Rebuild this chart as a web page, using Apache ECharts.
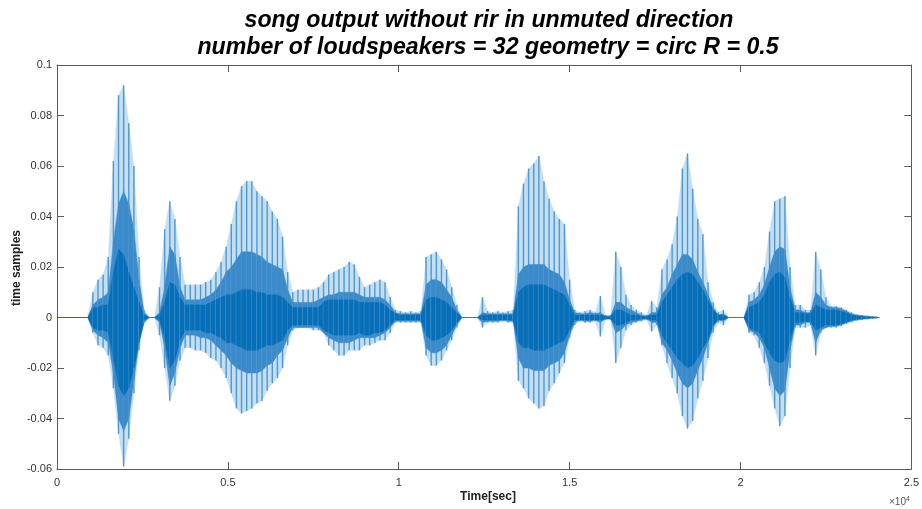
<!DOCTYPE html>
<html><head><meta charset="utf-8">
<script src="https://cdn.jsdelivr.net/npm/echarts@6/dist/echarts.min.js"></script>
<style>html,body{margin:0;padding:0;background:#fff}#c{width:922px;height:509px}</style>
</head><body><div id="c"></div>
<script>
const titleLines = ['song output without rir in unmuted direction', 'number of loudspeakers = 32 geometry = circ R = 0.5'];
const xAxisTitle = 'Time[sec]';
const yAxisTitle = 'time samples';
const xTickLabels = ['0', '0.5', '1', '1.5', '2', '2.5'];
const yTickLabels = ['-0.06', '-0.04', '-0.02', '0', '0.02', '0.04', '0.06', '0.08', '0.1'];
const signalSpan = [0, 24070];

const sampleIdx = [900,1050,1200,1350,1500,1650,1800,1950,2100,2250,2400,2550,2700,2850,3000,3150,3300,3450,3600,3750,3900,4050,4200,4350,4500,4650,4800,4950,5100,5250,5400,5550,5700,5850,6000,6150,6300,6450,6600,6750,6900,7050,7200,7350,7500,7650,7800,7950,8100,8250,8400,8550,8700,8850,9000,9150,9300,9450,9600,9750,9900,10050,10200,10350,10500,10650,10800,10950,11100,11250,11400,11550,11700,11850,12000,12150,12300,12450,12600,12750,12900,13050,13200,13350,13500,13650,13800,13950,14100,14250,14400,14550,14700,14850,15000,15150,15300,15450,15600,15750,15900,16050,16200,16350,16500,16650,16800,16950,17100,17250,17400,17550,17700,17850,18000,18150,18300,18450,18600,18750,18900,19050,19200,19350,19500,19650,19800,19950,20100,20250,20400,20550,20700,20850,21000,21150,21300,21450,21600,21750,21900,22050,22200,22350,22500,22650,22800,22950,23100,23250,23400,23550,23700,23850,24000];

const outerMax = [0,0.010,0.015,0.017,0.024,0.062,0.088,0.092,0.077,0.060,0.024,0.003,0,0,0.012,0.035,0.046,0.039,0.024,0.013,0.013,0.013,0.013,0.014,0.015,0.018,0.022,0.028,0.037,0.046,0.052,0.054,0.054,0.050,0.048,0.046,0.042,0.039,0.032,0.018,0.010,0.011,0.011,0.011,0.011,0.012,0.014,0.017,0.018,0.019,0.020,0.022,0.021,0.016,0.012,0.013,0.014,0.015,0.014,0.008,0.003,0.0025,0.002,0.0025,0.002,0.0025,0.024,0.025,0.026,0.023,0.019,0.012,0.005,0,0,0,0,0.008,0.0025,0.002,0.0025,0.002,0.0025,0.003,0.044,0.053,0.059,0.061,0.064,0.054,0.047,0.042,0.039,0.037,0.015,0.003,0.002,0.0025,0.003,0.002,0.0085,0.001,0.001,0.026,0.020,0.009,0.005,0.003,0.002,0.001,0.0065,0.004,0.019,0.023,0.029,0.040,0.059,0.065,0.051,0.039,0.033,0.014,0.006,0.002,0.003,0,0,0,0,0.009,0.010,0.014,0.020,0.034,0.046,0.047,0.048,0.020,0.005,0.005,0.003,0.003,0.026,0.019,0.008,0.0045,0.0045,0.004,0.003,0.002,0.0012,0.001,0.0007,0.0005,0.0003];
const outerMin = [0,-0.006,-0.011,-0.012,-0.015,-0.028,-0.046,-0.059,-0.048,-0.030,-0.013,-0.002,0,0,-0.007,-0.020,-0.033,-0.027,-0.017,-0.012,-0.012,-0.013,-0.013,-0.014,-0.016,-0.017,-0.020,-0.024,-0.030,-0.036,-0.038,-0.037,-0.036,-0.034,-0.033,-0.029,-0.026,-0.024,-0.020,-0.011,-0.005,-0.004,-0.004,-0.004,-0.005,-0.005,-0.006,-0.011,-0.013,-0.015,-0.015,-0.013,-0.013,-0.013,-0.011,-0.011,-0.010,-0.009,-0.009,-0.006,-0.002,-0.002,-0.002,-0.002,-0.002,-0.002,-0.015,-0.019,-0.019,-0.017,-0.013,-0.009,-0.004,0,0,0,0,-0.004,-0.002,-0.002,-0.002,-0.0015,-0.002,-0.002,-0.025,-0.028,-0.032,-0.034,-0.036,-0.035,-0.029,-0.026,-0.022,-0.018,-0.008,-0.003,-0.0015,-0.002,-0.002,-0.0015,-0.0075,-0.001,-0.001,-0.018,-0.012,-0.005,-0.003,-0.002,-0.0015,-0.001,-0.0055,-0.003,-0.011,-0.018,-0.024,-0.030,-0.039,-0.044,-0.041,-0.032,-0.025,-0.016,-0.006,-0.002,-0.003,0,0,0,0,-0.006,-0.007,-0.012,-0.018,-0.027,-0.036,-0.043,-0.039,-0.020,-0.004,-0.004,-0.004,-0.003,-0.015,-0.006,-0.004,-0.004,-0.004,-0.0034,-0.0025,-0.0018,-0.0012,-0.001,-0.0007,-0.0005,-0.0003];
const midMax = [0,0.005,0.007,0.008,0.010,0.030,0.045,0.050,0.045,0.035,0.015,0.002,0,0,0.002,0.012,0.028,0.025,0.012,0.007,0.007,0.007,0.007,0.008,0.009,0.011,0.014,0.018,0.020,0.023,0.026,0.026,0.026,0.025,0.024,0.022,0.021,0.020,0.019,0.011,0.006,0.006,0.006,0.006,0.006,0.007,0.008,0.009,0.009,0.010,0.010,0.010,0.010,0.009,0.008,0.008,0.008,0.008,0.007,0.005,0.002,0.0015,0.0015,0.0015,0.0015,0.0015,0.013,0.015,0.015,0.014,0.011,0.008,0.003,0,0,0,0,0.002,0.0015,0.0015,0.0015,0.0015,0.0015,0.0015,0.017,0.020,0.021,0.021,0.021,0.021,0.019,0.018,0.017,0.014,0.007,0.002,0.0015,0.0015,0.002,0.0015,0.002,0.0005,0.0005,0.006,0.006,0.004,0.003,0.002,0.001,0.0005,0.002,0.002,0.009,0.012,0.017,0.021,0.025,0.025,0.023,0.018,0.014,0.009,0.004,0.001,0.0015,0,0,0,0,0.006,0.007,0.009,0.013,0.020,0.026,0.028,0.027,0.012,0.003,0.003,0.002,0.002,0.010,0.008,0.005,0.004,0.004,0.0035,0.0025,0.0015,0.001,0.0007,0.0005,0.0003,0.0002];
const midMin = [0,-0.005,-0.007,-0.008,-0.010,-0.022,-0.040,-0.045,-0.040,-0.025,-0.010,-0.002,0,0,-0.002,-0.012,-0.027,-0.022,-0.012,-0.007,-0.007,-0.007,-0.008,-0.008,-0.009,-0.011,-0.013,-0.015,-0.018,-0.020,-0.021,-0.022,-0.022,-0.022,-0.021,-0.019,-0.018,-0.015,-0.013,-0.008,-0.004,-0.004,-0.004,-0.004,-0.004,-0.004,-0.006,-0.008,-0.009,-0.010,-0.010,-0.010,-0.009,-0.008,-0.008,-0.008,-0.008,-0.007,-0.006,-0.004,-0.0015,-0.0015,-0.0015,-0.0015,-0.0015,-0.0015,-0.012,-0.014,-0.014,-0.013,-0.011,-0.007,-0.003,0,0,0,0,-0.002,-0.0015,-0.0015,-0.0015,-0.001,-0.0015,-0.0015,-0.016,-0.020,-0.020,-0.021,-0.021,-0.021,-0.019,-0.018,-0.017,-0.014,-0.007,-0.002,-0.001,-0.0015,-0.0015,-0.001,-0.002,-0.0005,-0.0005,-0.006,-0.005,-0.003,-0.002,-0.0015,-0.001,-0.0005,-0.002,-0.002,-0.010,-0.013,-0.017,-0.022,-0.026,-0.028,-0.026,-0.021,-0.016,-0.010,-0.004,-0.001,-0.0015,0,0,0,0,-0.005,-0.006,-0.008,-0.012,-0.020,-0.028,-0.031,-0.029,-0.013,-0.003,-0.003,-0.002,-0.002,-0.010,-0.005,-0.004,-0.0035,-0.0035,-0.003,-0.002,-0.0015,-0.001,-0.0007,-0.0005,-0.0003,-0.0002];
const coreMax = [0,0.004,0.004,0.005,0.005,0.018,0.027,0.025,0.018,0.012,0.006,0.001,0,0,0.001,0.006,0.014,0.013,0.008,0.005,0.005,0.005,0.005,0.005,0.006,0.007,0.008,0.009,0.009,0.010,0.011,0.011,0.011,0.010,0.010,0.009,0.009,0.009,0.008,0.006,0.004,0.004,0.004,0.004,0.004,0.004,0.006,0.007,0.007,0.007,0.007,0.007,0.007,0.006,0.006,0.006,0.006,0.006,0.005,0.003,0.0015,0.001,0.001,0.001,0.001,0.001,0.007,0.008,0.008,0.007,0.006,0.004,0.002,0,0,0,0,0.001,0.001,0.001,0.001,0.001,0.001,0.001,0.010,0.012,0.013,0.013,0.013,0.013,0.012,0.011,0.010,0.009,0.005,0.001,0.001,0.001,0.001,0.001,0.001,0.0005,0.0005,0.003,0.003,0.002,0.001,0.001,0.0005,0.0005,0.001,0.001,0.006,0.009,0.012,0.015,0.017,0.018,0.017,0.014,0.011,0.007,0.003,0.001,0.001,0,0,0,0,0.004,0.005,0.006,0.009,0.014,0.017,0.018,0.016,0.008,0.002,0.002,0.0015,0.0015,0.005,0.004,0.003,0.003,0.003,0.0025,0.002,0.001,0.0007,0.0005,0.0003,0.0002,0.0001];
const coreMin = [0,-0.004,-0.005,-0.005,-0.006,-0.016,-0.027,-0.031,-0.028,-0.020,-0.010,-0.001,0,0,-0.001,-0.008,-0.020,-0.017,-0.009,-0.005,-0.005,-0.005,-0.005,-0.006,-0.006,-0.007,-0.008,-0.010,-0.010,-0.011,-0.012,-0.013,-0.013,-0.013,-0.012,-0.011,-0.011,-0.010,-0.009,-0.005,-0.003,-0.003,-0.003,-0.003,-0.003,-0.003,-0.005,-0.006,-0.007,-0.007,-0.007,-0.007,-0.007,-0.006,-0.007,-0.007,-0.006,-0.006,-0.005,-0.003,-0.001,-0.001,-0.001,-0.001,-0.001,-0.001,-0.007,-0.009,-0.009,-0.008,-0.007,-0.005,-0.002,0,0,0,0,-0.001,-0.001,-0.001,-0.001,-0.001,-0.001,-0.001,-0.010,-0.012,-0.012,-0.013,-0.013,-0.013,-0.012,-0.011,-0.010,-0.009,-0.005,-0.001,-0.001,-0.001,-0.001,-0.001,-0.001,-0.0005,-0.0005,-0.003,-0.003,-0.002,-0.001,-0.001,-0.0005,-0.0005,-0.001,-0.001,-0.007,-0.010,-0.013,-0.016,-0.018,-0.020,-0.019,-0.016,-0.012,-0.009,-0.003,-0.001,-0.001,0,0,0,0,-0.004,-0.005,-0.006,-0.010,-0.014,-0.017,-0.018,-0.017,-0.009,-0.002,-0.002,-0.0015,-0.0015,-0.005,-0.004,-0.003,-0.003,-0.003,-0.0025,-0.002,-0.001,-0.0007,-0.0005,-0.0003,-0.0002,-0.0001];

const chart = echarts.init(document.getElementById('c'), null, {renderer: 'canvas'});
const FONT = 'Liberation Sans, Arial, Helvetica, sans-serif';
const AX = '#5a5a5a';
const nCols = sampleIdx.length;
const waveData = sampleIdx.map((s, i) => [s, outerMax[i], outerMin[i], midMax[i], midMin[i], coreMax[i], coreMin[i]]);

function axisBase(extra) {
  return Object.assign({
    type: 'value',
    axisLine: {show: true, onZero: false, lineStyle: {color: AX, width: 1}},
    axisTick: {show: true, inside: true, length: 7, lineStyle: {color: AX, width: 1}},
    splitLine: {show: false}
  }, extra);
}

chart.setOption({
  animation: false,
  backgroundColor: '#fff',
  grid: {left: 57, right: 6, top: 65, bottom: 40, containLabel: false},
  xAxis: [
    axisBase({min: 0, max: 25000, interval: 5000, position: 'bottom',
      axisLabel: {formatter: (v, i) => xTickLabels[i], color: '#333', fontSize: 11, fontFamily: FONT, margin: 8}}),
    axisBase({min: 0, max: 25000, interval: 5000, position: 'top', axisLabel: {show: false}})
  ],
  yAxis: [
    axisBase({min: -0.06, max: 0.1, interval: 0.02, position: 'left',
      axisLabel: {formatter: (v, i) => yTickLabels[i], color: '#333', fontSize: 11, fontFamily: FONT, margin: 5}}),
    axisBase({min: -0.06, max: 0.1, interval: 0.02, position: 'right', axisLabel: {show: false}})
  ],
  graphic: [
    {type: 'text', x: 489, y: 20, scaleX: 0.965, style: {text: titleLines[0], fill: '#000', font: 'italic bold 24px ' + FONT, textAlign: 'center', textVerticalAlign: 'middle'}},
    {type: 'text', x: 488, y: 47, scaleX: 0.965, style: {text: titleLines[1], fill: '#000', font: 'italic bold 24px ' + FONT, textAlign: 'center', textVerticalAlign: 'middle'}},
    {type: 'text', x: 488, y: 497, style: {text: xAxisTitle, fill: '#222', font: 'bold 12px ' + FONT, textAlign: 'center', textVerticalAlign: 'middle'}},
    {type: 'text', x: 17, y: 268, rotation: Math.PI / 2, style: {text: yAxisTitle, fill: '#222', font: 'bold 12px ' + FONT, textAlign: 'center', textVerticalAlign: 'middle'}},
    {type: 'text', x: 889, y: 496, style: {text: '×10{s|4}', fill: '#555', font: '10px ' + FONT, rich: {s: {fontSize: 7, fill: '#555', verticalAlign: 'top', padding: [0, 0, 6, 0]}}}}
  ],
  series: [
    {type: 'line', xAxisIndex: 0, yAxisIndex: 0, data: [[signalSpan[0], 0], [signalSpan[1], 0]], symbol: 'none', silent: true,
      lineStyle: {color: '#0072BD', width: 1}, z: 1},
    {type: 'custom', xAxisIndex: 0, yAxisIndex: 0, clip: true, silent: true, z: 2,
      data: waveData, encode: {x: 0, y: [1, 2]},
      renderItem: function (params, api) {
        const i = params.dataIndex;
        const j = Math.min(i + 1, nCols - 1);
        const x0 = sampleIdx[i], x1 = sampleIdx[j];
        const poly = (hiArr, loArr, fill) => ({
          type: 'polygon',
          shape: {points: [api.coord([x0, hiArr[i]]), api.coord([x1, hiArr[j]]), api.coord([x1, loArr[j]]), api.coord([x0, loArr[i]])]},
          style: {fill: fill, stroke: fill, lineWidth: 0.4}
        });
        const t = api.coord([x0, outerMax[i]]), b = api.coord([x0, outerMin[i]]);
        const children = [
          poly(outerMax, outerMin, '#c4def2'),
          {type: 'line', shape: {x1: t[0], y1: t[1], x2: b[0], y2: b[1]}, style: {stroke: '#4f98d2', lineWidth: 1.4}},
          poly(midMax, midMin, '#3b8bcb'),
          poly(coreMax, coreMin, '#066fb8')
        ];
        return {type: 'group', children: children};
      }
    }
  ]
});
</script>
</body></html>
